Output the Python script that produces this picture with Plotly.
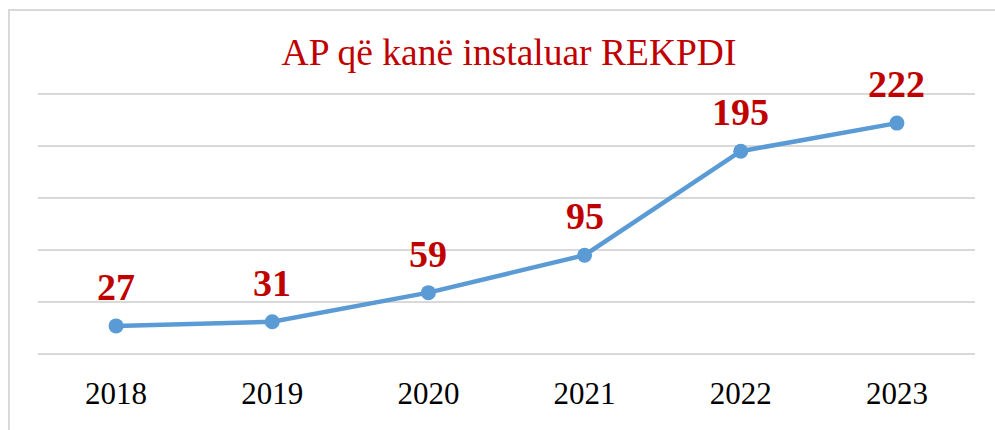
import plotly.graph_objects as go

years = ["2018", "2019", "2020", "2021", "2022", "2023"]
values = [27, 31, 59, 95, 195, 222]
labels = [str(v) for v in values]
title_text = "AP që kanë instaluar REKPDI"

W, H = 995, 430
ml, mr, mt, mb = 38, 20, 89, 76
pw, ph = W - ml - mr, H - mt - mb
ymax = ph / 1.04

fig = go.Figure()
fig.add_trace(go.Scatter(
    x=years, y=values, mode="lines+markers",
    line=dict(color="#5B9BD5", width=4.5),
    marker=dict(color="#5B9BD5", size=15),
    cliponaxis=False, hoverinfo="skip",
))

for i, (v, lab) in enumerate(zip(values, labels)):
    fig.add_annotation(x=i, y=v, xref="x", yref="y", text="<b>" + lab + "</b>",
                       showarrow=False, yshift=39,
                       yanchor="middle", xanchor="center",
                       font=dict(family="Liberation Serif", size=38, color="#C00000"))

# outer light border (left & top visible in reference)
bx0 = (9 - ml) / pw
by1 = (mt + ph - 10) / ph
fig.add_shape(type="rect", xref="paper", yref="paper",
              x0=bx0, x1=(W + 10 - ml) / pw, y0=-(mb + 10) / ph, y1=by1,
              line=dict(color="#D9D9D9", width=2), fillcolor="rgba(0,0,0,0)")

fig.update_layout(
    width=W, height=H,
    margin=dict(l=ml, r=mr, t=mt, b=mb),
    paper_bgcolor="white", plot_bgcolor="white",
    showlegend=False,
    title=dict(text=title_text, x=509 / W, xanchor="center",
               y=1 - 52 / H, yanchor="middle",
               font=dict(family="Liberation Serif", size=37.5, color="#C00000")),
    xaxis=dict(type="category", range=[-0.5, 5.5], showgrid=False, showline=False,
               ticks="", tickfont=dict(family="Liberation Serif", size=31, color="#000000"),
               ticklabelstandoff=18),
    yaxis=dict(range=[0, ymax], tickvals=[0, 50, 100, 150, 200, 250], showgrid=True,
               gridcolor="#D9D9D9", gridwidth=1.5,
               zeroline=True, zerolinecolor="#D9D9D9", zerolinewidth=1.5,
               showticklabels=False, ticks="", showline=False),
)

fig.write_html("out.html", config={"displayModeBar": False},
               post_script="document.body.style.margin='0';document.body.style.overflow='hidden';")
